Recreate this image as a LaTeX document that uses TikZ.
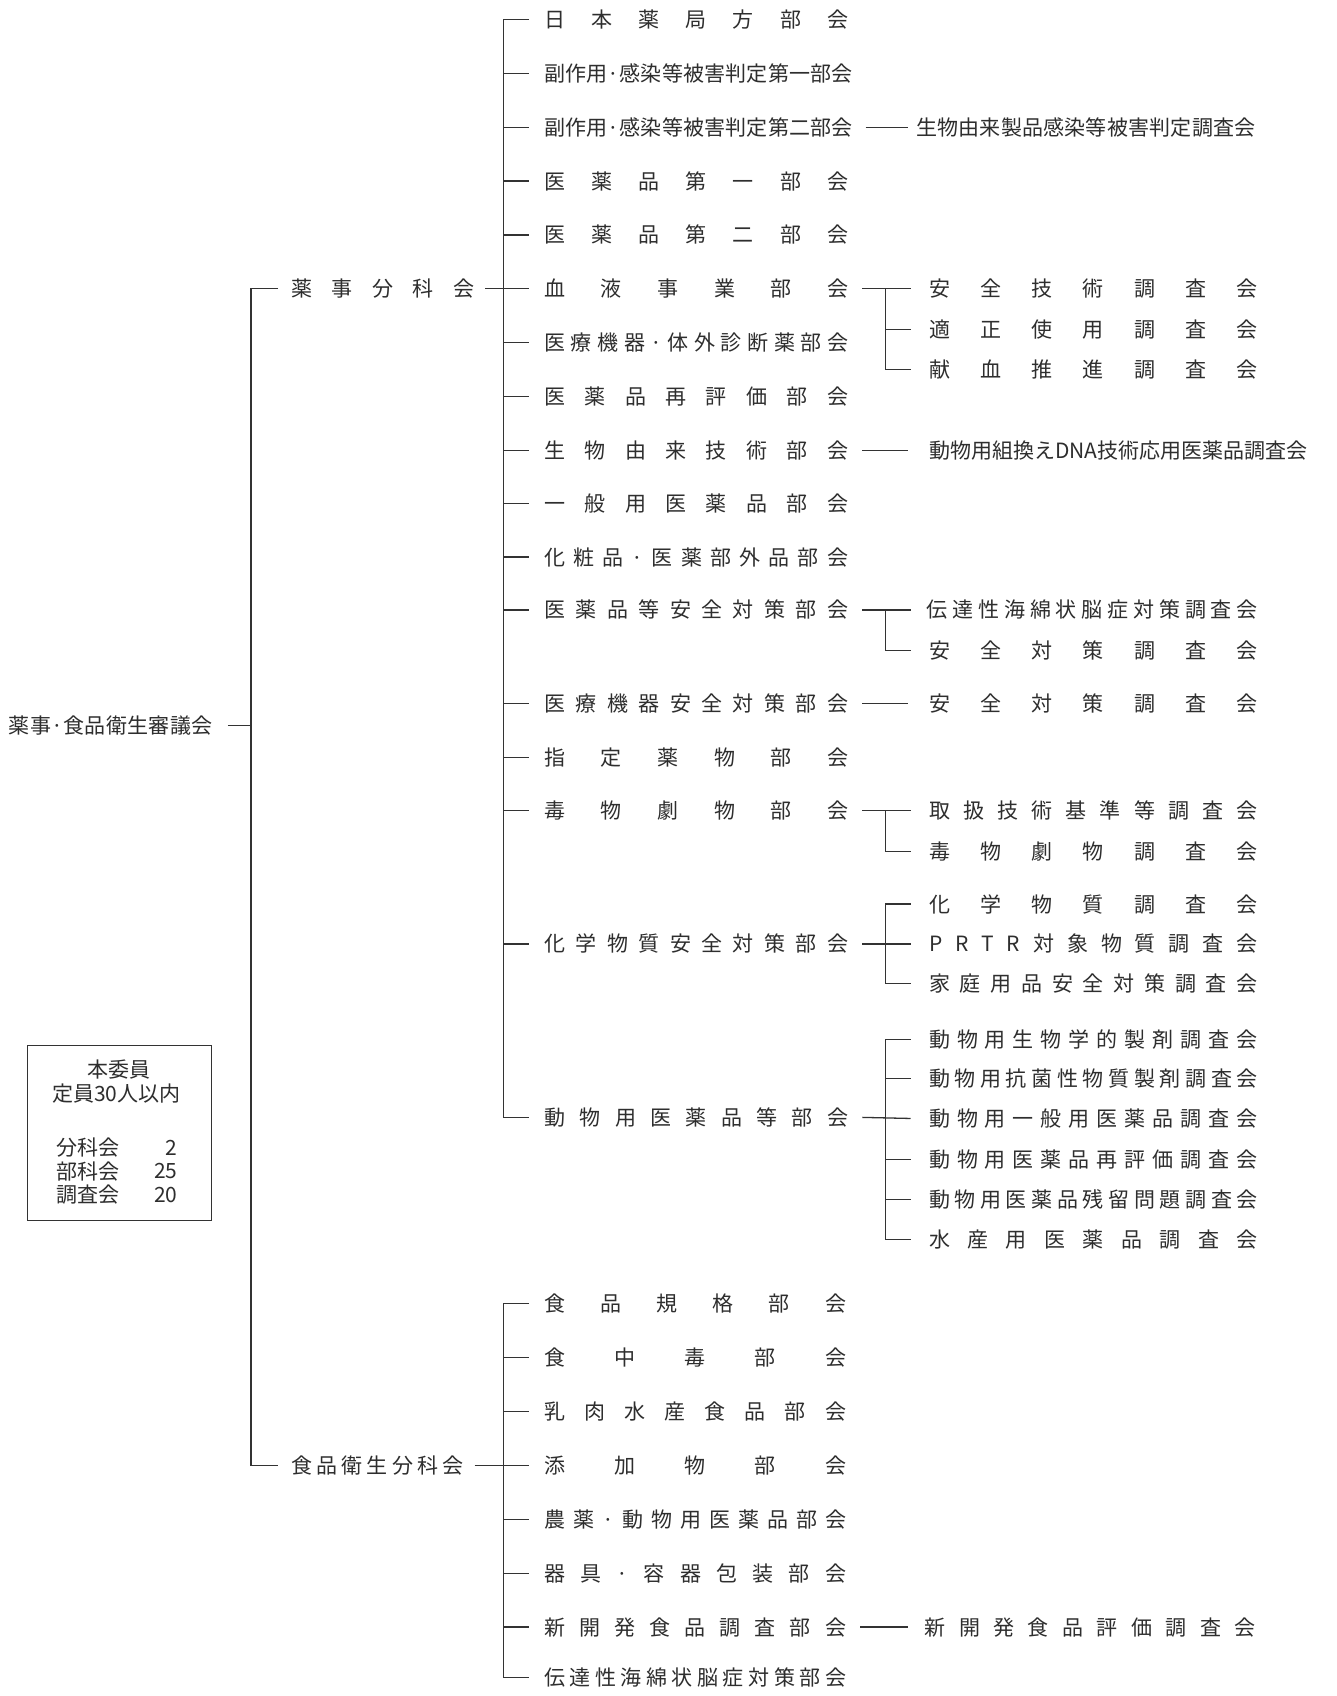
\documentclass[tikz,border=0pt]{standalone}
\usepackage{fontspec}
\setmainfont{Noto Sans CJK JP}
\makeatletter
\newif\ifjspfirst
\newcommand\jsp[2]{\makebox[#1][s]{\jspfirsttrue\@tfor\jsp@c:=#2\do{\ifjspfirst\jspfirstfalse\else\hfill\fi\jsp@c}}}
\makeatother
\begin{document}
\begin{tikzpicture}[x=1pt,y=-1pt,
  every node/.style={inner sep=0pt, font=\fontsize{19.5}{22}\selectfont, text=black!82},
  lab/.style={anchor=west, text height=18pt, text depth=3pt},
  ln/.style={line width=1.2pt, draw=black!80},
  boxln/.style={line width=0.9pt, draw=black!80}]
\useasboundingbox (0,0) rectangle (1240,1574);
\fill[white] (0,0) rectangle (1240,1574);

% ---- level 0
\node[lab] (root) at (8,673) {\jsp{189pt}{薬事·食品衛生審議会}};
\coordinate (b0) at (233,673);
\draw[ln] ([xshift=14pt]root.east) -- (b0);

% ---- level 1
\node[lab] (yak) at (270,268) {\jsp{170pt}{薬事分科会}};
\node[lab] (sho) at (270,1360) {\jsp{160pt}{食品衛生分科会}};
\draw[ln] ([xshift=-12pt]yak.west) -- (yak.west -| b0) -- (sho.west -| b0) -- ([xshift=-12pt]sho.west);

% ---- level 2 : 薬事分科会
\coordinate (b1) at (467,0);
\node[lab] (y1)  at (505,18)   {\jsp{282pt}{日本薬局方部会}};
\node[lab] (y2)  at (505,68)   {\jsp{286pt}{副作用·感染等被害判定第一部会}};
\node[lab] (y3)  at (505,118)  {\jsp{286pt}{副作用·感染等被害判定第二部会}};
\node[lab] (y4)  at (505,168)  {\jsp{282pt}{医薬品第一部会}};
\node[lab] (y5)  at (505,218)  {\jsp{282pt}{医薬品第二部会}};
\node[lab] (y6)  at (505,268)  {\jsp{282pt}{血液事業部会}};
\node[lab] (y7)  at (505,318)  {\jsp{282pt}{医療機器·体外診断薬部会}};
\node[lab] (y8)  at (505,368)  {\jsp{282pt}{医薬品再評価部会}};
\node[lab] (y9)  at (505,418)  {\jsp{282pt}{生物由来技術部会}};
\node[lab] (y10) at (505,467)  {\jsp{282pt}{一般用医薬品部会}};
\node[lab] (y11) at (505,517)  {\jsp{282pt}{化粧品·医薬部外品部会}};
\node[lab] (y12) at (505,566)  {\jsp{282pt}{医薬品等安全対策部会}};
\node[lab] (y13) at (505,653)  {\jsp{282pt}{医療機器安全対策部会}};
\node[lab] (y14) at (505,703)  {\jsp{282pt}{指定薬物部会}};
\node[lab] (y15) at (505,752)  {\jsp{282pt}{毒物劇物部会}};
\node[lab] (y16) at (505,876)  {\jsp{282pt}{化学物質安全対策部会}};
\node[lab] (y17) at (505,1037) {\jsp{282pt}{動物用医薬品等部会}};
\draw[ln] ([xshift=10pt]yak.east) -- (yak.east -| b1);
\draw[ln] ([xshift=-14pt]y1.west) -- (y1.west -| b1) -- (y17.west -| b1) -- ([xshift=-14pt]y17.west);
\foreach \n in {2,...,16} \draw[ln] (y\n.west -| b1) -- ([xshift=-14pt]y\n.west);

% ---- level 2 : 食品衛生分科会
\node[lab] (f1) at (505,1210) {\jsp{280pt}{食品規格部会}};
\node[lab] (f2) at (505,1260) {\jsp{280pt}{食中毒部会}};
\node[lab] (f3) at (505,1310) {\jsp{280pt}{乳肉水産食品部会}};
\node[lab] (f4) at (505,1360) {\jsp{280pt}{添加物部会}};
\node[lab] (f5) at (505,1410) {\jsp{280pt}{農薬·動物用医薬品部会}};
\node[lab] (f6) at (505,1460) {\jsp{280pt}{器具·容器包装部会}};
\node[lab] (f7) at (505,1510) {\jsp{280pt}{新開発食品調査部会}};
\node[lab] (f8) at (505,1557) {\jsp{280pt}{伝達性海綿状脳症対策部会}};
\draw[ln] ([xshift=10pt]sho.east) -- (sho.east -| b1);
\draw[ln] ([xshift=-14pt]f1.west) -- (f1.west -| b1) -- (f8.west -| b1) -- ([xshift=-14pt]f8.west);
\foreach \n in {2,...,7} \draw[ln] (f\n.west -| b1) -- ([xshift=-14pt]f\n.west);

% ---- level 3
\coordinate (b2) at (822,0);
% single links
\node[lab] (t3) at (850,118) {\jsp{315pt}{生物由来製品感染等被害判定調査会}};
\draw[ln] ([xshift=12pt]y3.east) -- ([xshift=-7pt]t3.west);
\node[lab] (t9) at (862,418) {動物用組換えDNA技術応用医薬品調査会};
\draw[ln] ([xshift=13pt]y9.east) -- ([xshift=-19pt]t9.west);
\node[lab] (t13) at (862,653) {\jsp{305pt}{安全対策調査会}};
\draw[ln] ([xshift=13pt]y13.east) -- ([xshift=-19pt]t13.west);
\node[lab] (tf7) at (858,1510) {\jsp{307pt}{新開発食品評価調査会}};
\draw[ln] ([xshift=13pt]f7.east) -- ([xshift=-15pt]tf7.west);

% 血液事業部会
\node[lab] (ta1) at (862,268) {\jsp{305pt}{安全技術調査会}};
\node[lab] (ta2) at (862,306) {\jsp{305pt}{適正使用調査会}};
\node[lab] (ta3) at (862,343) {\jsp{305pt}{献血推進調査会}};
\draw[ln] ([xshift=13pt]y6.east) -- ([xshift=-17pt]ta1.west);
\draw[ln] (ta1.west -| b2) -- (ta3.west -| b2) -- ([xshift=-17pt]ta3.west);
\draw[ln] (ta2.west -| b2) -- ([xshift=-17pt]ta2.west);

% 医薬品等安全対策部会
\node[lab] (tb1) at (860,566) {\jsp{307pt}{伝達性海綿状脳症対策調査会}};
\node[lab] (tb2) at (862,604) {\jsp{305pt}{安全対策調査会}};
\draw[ln] ([xshift=13pt]y12.east) -- ([xshift=-15pt]tb1.west);
\draw[ln] (tb1.west -| b2) -- (tb2.west -| b2) -- ([xshift=-17pt]tb2.west);

% 毒物劇物部会
\node[lab] (tc1) at (862,752) {\jsp{305pt}{取扱技術基準等調査会}};
\node[lab] (tc2) at (862,790) {\jsp{305pt}{毒物劇物調査会}};
\draw[ln] ([xshift=13pt]y15.east) -- ([xshift=-17pt]tc1.west);
\draw[ln] (tc1.west -| b2) -- (tc2.west -| b2) -- ([xshift=-17pt]tc2.west);

% 化学物質安全対策部会
\node[lab] (td1) at (862,839) {\jsp{305pt}{化学物質調査会}};
\node[lab] (td2) at (862,876) {\jsp{305pt}{PRTR対象物質調査会}};
\node[lab] (td3) at (862,913) {\jsp{305pt}{家庭用品安全対策調査会}};
\draw[ln] ([xshift=13pt]y16.east) -- ([xshift=-17pt]td2.west);
\draw[ln] ([xshift=-17pt]td1.west) -- (td1.west -| b2) -- (td3.west -| b2) -- ([xshift=-17pt]td3.west);

% 動物用医薬品等部会
\node[lab] (te1) at (862,965)  {\jsp{305pt}{動物用生物学的製剤調査会}};
\node[lab] (te2) at (862,1001) {\jsp{305pt}{動物用抗菌性物質製剤調査会}};
\node[lab] (te3) at (862,1038) {\jsp{305pt}{動物用一般用医薬品調査会}};
\node[lab] (te4) at (862,1076) {\jsp{305pt}{動物用医薬品再評価調査会}};
\node[lab] (te5) at (862,1113) {\jsp{305pt}{動物用医薬品残留問題調査会}};
\node[lab] (te6) at (862,1150) {\jsp{305pt}{水産用医薬品調査会}};
\draw[ln] ([xshift=13pt]y17.east) -- ([xshift=-17pt]te3.west);
\draw[ln] ([xshift=-17pt]te1.west) -- (te1.west -| b2) -- (te6.west -| b2) -- ([xshift=-17pt]te6.west);
\foreach \n in {2,4,5} \draw[ln] (te\n.west -| b2) -- ([xshift=-17pt]te\n.west);

% ---- legend box
\node[boxln, draw, anchor=north west, minimum width=171pt, minimum height=162pt] (box) at (25,970) {};
\node (bx1) at (110,993) {本委員};
\node (bx2) at (108,1015) {定員30人以内};
\node[anchor=west] (bl1) at (52,1065) {分科会};
\node[anchor=west] (bl2) at (52,1087) {部科会};
\node[anchor=west] (bl3) at (52,1109) {調査会};
\node[anchor=east] (bn1) at (165,1065) {2};
\node[anchor=east] (bn2) at (165,1087) {25};
\node[anchor=east] (bn3) at (165,1109) {20};
\end{tikzpicture}
\end{document}
